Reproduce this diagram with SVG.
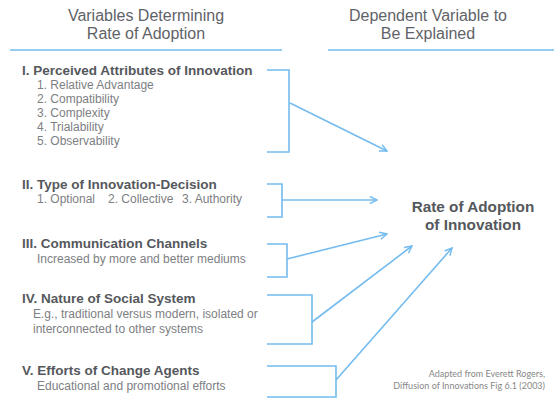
<svg xmlns="http://www.w3.org/2000/svg" width="554" height="398" viewBox="0 0 554 398">
<defs>
<style>
text{font-family:"Liberation Sans",Arial,sans-serif}
.hdr{font-size:16px;fill:#5f6368;text-anchor:middle}
.ttl{font-size:13.5px;font-weight:bold;fill:#55585c}
.sub{font-size:12px;fill:#7d8083}
.res{font-size:15.3px;font-weight:bold;fill:#55585c;text-anchor:middle}
.cr{font-family:"Lato",sans-serif;font-size:9px;fill:#888;text-anchor:end}
.ln{fill:none;stroke:#74bcef;stroke-width:1.6}
.ar{fill:none;stroke:#74bcef;stroke-width:1.6}
</style>
<marker id="ah" viewBox="0 0 10 10" refX="9" refY="5" markerWidth="9" markerHeight="9" markerUnits="userSpaceOnUse" orient="auto">
<path d="M1,1 L9,5 L1,9" fill="none" stroke="#74bcef" stroke-width="1.6"/>
</marker>
</defs>
<rect width="554" height="398" fill="#fff"/>
<g id="headers">
<text class="hdr" x="146" y="21">Variables Determining</text>
<text class="hdr" x="146" y="39">Rate of Adoption</text>
<line class="ln" x1="10" y1="50" x2="282" y2="50"/>
<text class="hdr" x="428" y="21">Dependent Variable to</text>
<text class="hdr" x="428" y="39">Be Explained</text>
<line class="ln" x1="328" y1="50" x2="554" y2="50"/>
</g>
<g id="node1">
<text class="ttl" x="22" y="75">I. Perceived Attributes of Innovation</text>
<text class="sub" x="37" y="89">1. Relative Advantage</text>
<text class="sub" x="37" y="103">2. Compatibility</text>
<text class="sub" x="37" y="117">3. Complexity</text>
<text class="sub" x="37" y="131">4. Trialability</text>
<text class="sub" x="37" y="145">5. Observability</text>
</g>
<g id="node2">
<text class="ttl" x="22" y="189">II. Type of Innovation-Decision</text>
<text class="sub" x="37" y="203">1. Optional</text>
<text class="sub" x="108" y="203">2. Collective</text>
<text class="sub" x="182" y="203">3. Authority</text>
</g>
<g id="node3">
<text class="ttl" x="22" y="248">III. Communication Channels</text>
<text class="sub" x="37" y="263">Increased by more and better mediums</text>
</g>
<g id="node4">
<text class="ttl" x="22" y="303">IV. Nature of Social System</text>
<text class="sub" x="33" y="318">E.g., traditional versus modern, isolated or</text>
<text class="sub" x="33" y="333">interconnected to other systems</text>
</g>
<g id="node5">
<text class="ttl" x="22" y="375">V. Efforts of Change Agents</text>
<text class="sub" x="37" y="390">Educational and promotional efforts</text>
</g>
<g id="result">
<text class="res" x="473" y="212">Rate of Adoption</text>
<text class="res" x="473" y="230">of Innovation</text>
</g>
<g id="credit">
<text class="cr" x="545" y="377">Adapted from Everett Rogers,</text>
<text class="cr" x="545" y="389">Diffusion of Innovations Fig 6.1 (2003)</text>
</g>
<g id="connectors">
<path class="ln" d="M267,70 H289 V152 H267"/>
<path class="ar" d="M290,103 L387,151" marker-end="url(#ah)"/>
<path class="ln" d="M267,184 H282 V217 H267"/>
<path class="ar" d="M282,200 L377,200" marker-end="url(#ah)"/>
<path class="ln" d="M267,244 H287 V277 H267"/>
<path class="ar" d="M287,259 L387,234" marker-end="url(#ah)"/>
<path class="ln" d="M267,295 H312 V344 H267"/>
<path class="ar" d="M312,322 L412,246" marker-end="url(#ah)"/>
<path class="ln" d="M267,366 H336 V397 H267"/>
<path class="ar" d="M336,380 L452,248" marker-end="url(#ah)"/>
</g>
</svg>
